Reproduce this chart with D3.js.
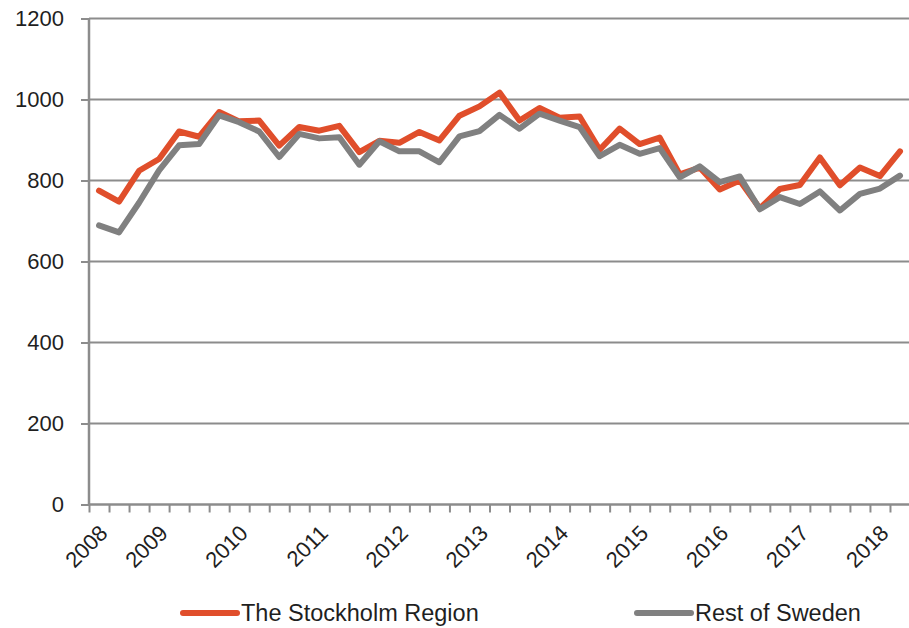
<!DOCTYPE html>
<html>
<head>
<meta charset="utf-8">
<script src="https://cdn.jsdelivr.net/npm/d3@7"></script>
<style>
  body { margin: 0; background: #fff; }
  svg { display: block; font-family: "Liberation Sans", Arial, sans-serif; }
</style>
</head>
<body>
<svg id="chart" width="909" height="628"></svg>
<script>
// quarterly values, 2008 Q2 .. 2018 Q2
const quarters = d3.range(41);
const yearLabels = ["2008", "2009", "2010", "2011", "2012", "2013", "2014", "2015", "2016", "2017", "2018"];
const yearLabelIndex = [0, 3, 7, 11, 15, 19, 23, 27, 31, 35, 39];
const stockholm = [775, 748, 824, 853, 921, 908, 969, 946, 948, 886, 932, 923, 935, 870, 898, 893, 920, 899, 960, 983,
  1017, 948, 979, 955, 958, 876, 928, 890, 906, 815, 832, 778, 800, 731, 779, 789, 857, 788, 832, 811, 872];
const restOfSweden = [689, 672, 745, 825, 887, 890, 961, 944, 921, 858, 915, 904, 907, 839, 897, 872, 872, 845, 909, 922,
  962, 928, 965, 948, 932, 860, 888, 866, 880, 808, 835, 796, 810, 729, 759, 742, 773, 726, 767, 780, 812];
const yTicks = [0, 200, 400, 600, 800, 1000, 1200];
const seriesNames = ["The Stockholm Region", "Rest of Sweden"];

const svg = d3.select("#chart");
const plot = { left: 89, right: 910, top: 18.5, bottom: 504.5 };
const gridColor = "#8c8c8c";
const textColor = "#1f1f1f";
const colors = ["#e04e2b", "#808080"];

const x = d3.scaleBand().domain(quarters).range([plot.left, plot.right]).padding(0);
const xEdge = d3.scaleLinear().domain([0, quarters.length]).range([plot.left, plot.right]);
const y = d3.scaleLinear().domain([0, 1200]).range([plot.bottom, plot.top]);

// horizontal gridlines
svg.append("g")
  .selectAll("line")
  .data(yTicks.filter(d => d > 0))
  .enter().append("line")
  .attr("x1", plot.left).attr("x2", 909)
  .attr("y1", d => y(d)).attr("y2", d => y(d))
  .attr("stroke", gridColor).attr("stroke-width", 2);

// y axis
const yAxis = svg.append("g")
  .attr("transform", `translate(${plot.left},0)`)
  .call(d3.axisLeft(y).tickValues(yTicks).tickSize(8).tickPadding(17).tickFormat(d3.format("d")));
yAxis.select(".domain").attr("stroke", gridColor).attr("stroke-width", 2.5).attr("d", `M0,${plot.top}V${plot.bottom}`);
yAxis.selectAll(".tick line").attr("stroke", gridColor).attr("stroke-width", 2);
yAxis.selectAll(".tick text").attr("font-size", 22).attr("fill", textColor).attr("font-family", "Liberation Sans, Arial, sans-serif");

// x axis (ticks between categories)
const xAxis = svg.append("g")
  .attr("transform", `translate(0,${plot.bottom})`)
  .call(d3.axisBottom(xEdge).tickValues(d3.range(quarters.length + 1)).tickSize(8).tickFormat(""));
xAxis.select(".domain").attr("stroke", gridColor).attr("stroke-width", 2.5).attr("d", `M${plot.left},0H909`);
xAxis.selectAll(".tick line").attr("stroke", gridColor).attr("stroke-width", 2);

// rotated year labels
svg.append("g")
  .selectAll("text")
  .data(yearLabels)
  .enter().append("text")
  .attr("transform", (d, i) => `translate(${x(yearLabelIndex[i]) + x.bandwidth() / 2 + 10},${plot.bottom + 30}) rotate(-45)`)
  .attr("text-anchor", "end")
  .attr("font-size", 22)
  .attr("fill", textColor)
  .text(d => d);

// lines
const line = d3.line()
  .x((d, i) => x(quarters[i]) + x.bandwidth() / 2)
  .y(d => y(d));

[stockholm, restOfSweden].forEach((s, k) => {
  svg.append("path")
    .datum(s)
    .attr("fill", "none")
    .attr("stroke", colors[k])
    .attr("stroke-width", 6)
    .attr("stroke-linejoin", "round")
    .attr("stroke-linecap", "round")
    .attr("d", line);
});

// legend
const legendX = [183, 637];
const legend = svg.append("g")
  .selectAll("g")
  .data(seriesNames)
  .enter().append("g")
  .attr("transform", (d, i) => `translate(${legendX[i]},613)`);
legend.append("line")
  .attr("x1", 0).attr("x2", 54)
  .attr("stroke", (d, i) => colors[i])
  .attr("stroke-width", 6)
  .attr("stroke-linecap", "round");
legend.append("text")
  .attr("x", 58).attr("y", 8)
  .attr("font-size", 23.5)
  .attr("fill", textColor)
  .text(d => d);
</script>
</body>
</html>
